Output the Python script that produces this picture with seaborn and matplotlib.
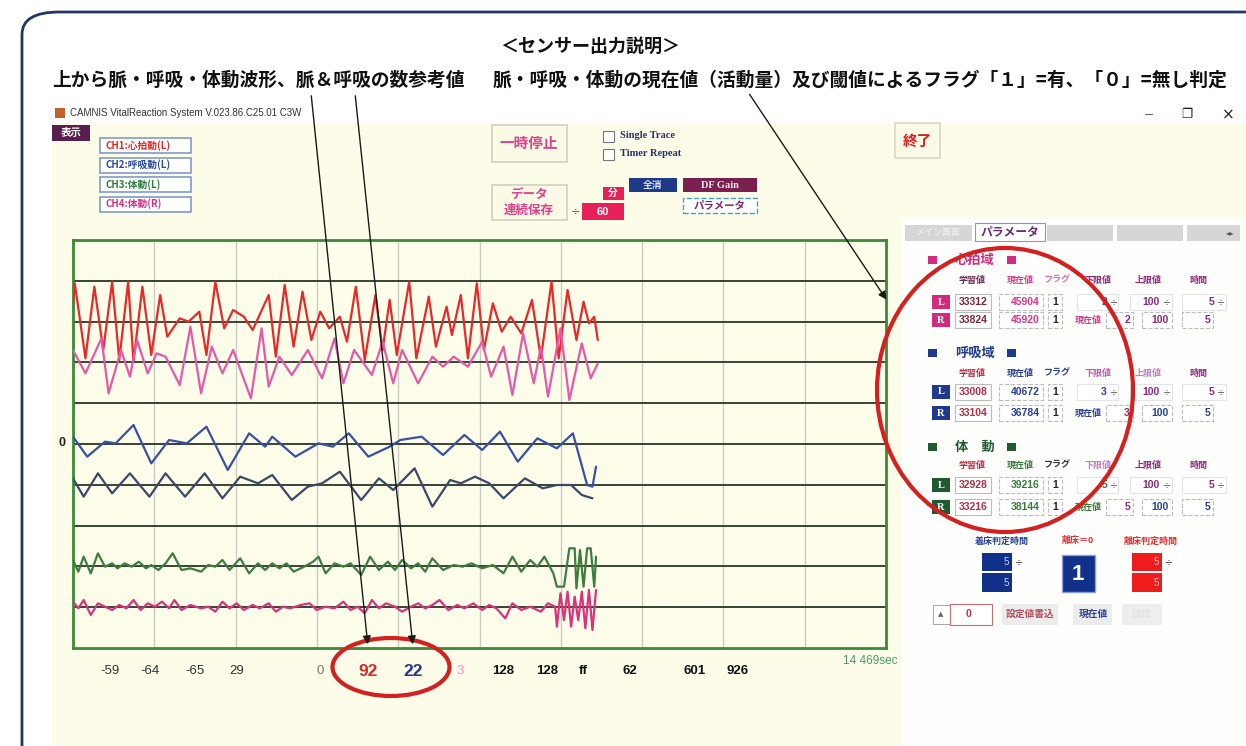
import numpy as np
import pandas as pd
import matplotlib
matplotlib.use("Agg")
import matplotlib.pyplot as plt
import seaborn as sns
from matplotlib.patches import Rectangle, Ellipse, FancyBboxPatch, FancyArrowPatch

# ---------------- data ----------------
red_t = [0,5,35,60,85,110,130,155,170,195,220,245,265,300,325,355,375,400,425,450,480,505,550,570,595,620,645,670,695,720,750,770,795,820,850,870,890,910,945,965,1000,1020,1050,1065,1090,1110,1135,1155,1180,1205,1230,1260,1290,1315,1345,1365,1390,1415,1435,1450,1465,1475]
red_v = [412,482,257,472,282,487,252,487,247,472,267,447,322,377,367,397,267,487,347,402,382,342,447,262,477,292,457,312,397,347,382,307,472,252,447,282,432,267,487,257,442,292,412,327,447,257,482,282,422,337,382,332,432,257,487,257,462,312,427,362,382,312]

pink_t = [0,35,80,100,135,160,180,210,235,260,300,330,360,390,420,450,500,530,550,580,615,660,700,735,760,790,840,870,900,925,970,1010,1040,1070,1110,1150,1175,1210,1235,1265,1295,1315,1335,1370,1395,1430,1455,1475]
pink_v = [282,212,317,152,282,202,312,212,272,262,177,352,152,292,212,282,137,347,172,262,207,282,197,317,182,282,207,307,182,282,182,262,232,262,232,307,202,292,147,332,182,292,142,347,132,302,197,242]

blue_t = [0,40,90,120,170,220,270,320,375,435,495,540,560,625,690,730,775,830,890,920,980,1040,1100,1150,1200,1250,1305,1360,1405,1445,1460,1470]
blue_v = [22,-38,7,2,57,-58,12,2,52,-78,32,-8,22,-38,2,-8,32,-38,-8,12,22,-33,27,-18,37,-53,17,-13,32,-123,-128,-68]

navy_t = [0,30,70,110,160,215,260,315,370,420,470,520,560,615,660,700,750,810,860,900,960,1010,1060,1090,1130,1170,1210,1270,1320,1360,1400,1430,1460]
navy_v = [-103,-158,-88,-148,-88,-158,-88,-158,-88,-163,-98,-118,-93,-168,-128,-118,-83,-168,-103,-138,-73,-188,-108,-118,-98,-118,-163,-103,-133,-123,-123,-153,-163]

green_t = [0,15,30,50,70,90,110,125,145,165,185,205,220,240,260,280,305,330,360,380,400,420,440,470,495,520,540,560,580,600,620,650,675,690,710,735,760,780,810,835,860,885,905,925,950,970,990,1010,1040,1070,1095,1120,1150,1180,1210,1235,1260,1285,1305,1325,1350,1360,1380,1395,1410,1415,1425,1435,1445,1455,1465,1470]
green_v = [-348,-383,-338,-388,-328,-368,-358,-373,-358,-368,-353,-373,-363,-378,-358,-328,-378,-373,-383,-363,-368,-348,-378,-343,-388,-358,-378,-358,-373,-358,-383,-368,-353,-338,-388,-358,-368,-358,-393,-338,-378,-353,-378,-348,-373,-358,-383,-343,-378,-363,-368,-358,-373,-363,-388,-338,-383,-348,-368,-338,-388,-428,-428,-313,-313,-433,-318,-428,-313,-313,-428,-338]

crim_t = [0,15,30,50,70,90,110,130,150,170,190,210,230,250,270,285,305,330,360,380,400,420,440,460,480,505,525,550,570,590,610,640,665,685,710,735,760,780,800,820,840,860,880,905,925,950,970,990,1010,1030,1055,1080,1100,1125,1150,1170,1190,1215,1235,1260,1285,1315,1335,1355,1360,1370,1380,1390,1400,1410,1420,1430,1440,1450,1460,1470]
crim_v = [-473,-493,-468,-513,-478,-488,-498,-483,-493,-468,-498,-478,-488,-473,-493,-468,-498,-483,-493,-488,-503,-473,-493,-478,-498,-483,-493,-478,-503,-488,-493,-483,-478,-498,-488,-493,-473,-498,-488,-508,-468,-493,-478,-488,-503,-488,-478,-493,-483,-468,-498,-483,-493,-478,-498,-483,-493,-523,-478,-498,-488,-503,-478,-488,-548,-448,-528,-443,-548,-458,-528,-443,-553,-438,-558,-438]

channels = ['CH1 心拍L', 'CH1 心拍R', 'CH2 呼吸L', 'CH2 呼吸R', 'CH3 体動L', 'CH4 体動R']
bottom_values = ['-59', '-64', '-65', '29', '0', '92', '22', '3', '128', '128', 'ff', '62', '601', '926']
elapsed = '14 469sec'

sections = ['心拍域', '呼吸域', '体　動']
col_headers = ['学習値', '現在値', 'フラグ', '下限値', '上限値', '時間']
learned_L = [33312, 33008, 32928]
learned_R = [33824, 33104, 33216]
current_L = [45904, 40672, 39216]
current_R = [45920, 36784, 38144]
flag_L = [1, 1, 1]
flag_R = [1, 1, 1]
lower_lim = [2, 3, 5]
upper_lim = [100, 100, 100]
hold_time = [5, 5, 5]

# ---------------- setup ----------------
W, H = 1246, 746
sns.set_theme(style="white")
CJK = ['Noto Sans CJK JP', 'DejaVu Sans']
plt.rcParams['font.family'] = CJK

fig = plt.figure(figsize=(W / 100, H / 100), dpi=100, facecolor='white')


def fx(x):
    return x / W


def fy(y):
    return 1 - y / H


def T(x, y, s, size=9, color='black', ha='left', va='center', weight='normal', family=None, z=4):
    fig.text(fx(x), fy(y), s, fontsize=size, color=color, ha=ha, va=va,
             fontweight=weight, family=family if family else CJK, zorder=z)


def R(x0, y0, x1, y1, fc='none', ec='none', lw=1.0, z=1, ls='-'):
    fig.patches.append(Rectangle((fx(x0), fy(y1)), (x1 - x0) / W, (y1 - y0) / H,
                                 transform=fig.transFigure, facecolor=fc, edgecolor=ec,
                                 linewidth=lw, zorder=z, linestyle=ls))


# window background
R(52, 123, 1246, 746, fc='#fcfce9', z=-3)
R(902, 218, 1246, 746, fc='#fefefc', z=-2)

# outer rounded frame
fig.patches.append(FancyBboxPatch((fx(22), fy(790)), (1290 - 22) / W, (790 - 12) / H,
                                  boxstyle='round,pad=0,rounding_size=0.03',
                                  transform=fig.transFigure, facecolor='none',
                                  edgecolor='#22356e', linewidth=2, zorder=-1))

# titles
T(590, 46, '＜センサー出力説明＞', size=13, ha='center', weight='bold', color='#111111')
T(52, 80, '上から脈・呼吸・体動波形、脈＆呼吸の数参考値', size=13.5, weight='bold', color='#111111')
T(493, 80, '脈・呼吸・体動の現在値（活動量）及び閾値によるフラグ「１」=有、「０」=無し判定',
  size=13.5, weight='bold', color='#111111')

# window title bar
R(55, 108, 65, 118, fc='#c0602a', z=2)
T(70, 113, 'CAMNIS VitalReaction System V.023.86.C25.01 C3W', size=7, color='#333333',
  family='Liberation Sans')
T(1149, 115, '−', size=9, color='#666666', ha='center', family='DejaVu Sans')
T(1187, 115, '❐', size=9, color='#222222', ha='center', family='DejaVu Sans', weight='bold')
T(1228, 115, '×', size=11, color='#222222', ha='center', family='DejaVu Sans')

# top-left buttons
R(52, 125, 90, 141, fc='#5a1d4e', z=2)
T(71, 133, '表示', size=7.5, color='white', ha='center', weight='bold')
ch_labels = ['CH1:心拍動(L)', 'CH2:呼吸動(L)', 'CH3:体動(L)', 'CH4:体動(R)']
ch_colors = ['#e02a2a', '#2a4a9a', '#2a7a3a', '#d0308a']
for i, (lab, c) in enumerate(zip(ch_labels, ch_colors)):
    y0 = 138 + i * 19.5
    R(100, y0, 191, y0 + 15, fc='white', ec='#7f9cc8', lw=1.2, z=2)
    T(106, y0 + 7.5, lab, size=7, color=c, weight='bold')

# middle buttons
R(492, 125, 567, 162, fc='#fafae6', ec='#d0d0c0', lw=1.2, z=2)
T(529, 143, '一時停止', size=10.5, color='#e0408a', ha='center', weight='bold')
R(603, 131, 614, 142, fc='white', ec='#777777', lw=0.8, z=2)
R(603, 149, 614, 160, fc='white', ec='#777777', lw=0.8, z=2)
T(620, 136, 'Single Trace', size=7.5, color='#2a3070', weight='bold', family='Liberation Serif')
T(620, 154, 'Timer Repeat', size=7.5, color='#2a3070', weight='bold', family='Liberation Serif')
R(492, 185, 567, 220, fc='#fafae6', ec='#d0d0c0', lw=1.2, z=2)
T(529, 194, 'データ', size=9, color='#e0408a', ha='center', weight='bold')
T(529, 210, '連続保存', size=9, color='#e0408a', ha='center', weight='bold')
T(575, 211, '÷', size=8, color='#444444', ha='center', family='DejaVu Sans')
R(603, 187, 624, 200, fc='#e8205a', z=2)
T(613, 193, '分', size=7, color='white', ha='center', weight='bold')
R(582, 203, 624, 220, fc='#e8205a', z=2)
T(603, 212, '60', size=8, color='white', ha='center', weight='bold', family='Liberation Sans')
R(629, 178, 677, 192, fc='#1e3a86', z=2)
T(653, 185, '全消', size=7, color='#dde4ff', ha='center', weight='bold')
R(683, 178, 757, 192, fc='#7a2050', z=2)
T(720, 185, 'DF Gain', size=7.5, color='#f2e6ec', ha='center', weight='bold', family='Liberation Serif')
R(683, 198, 757, 213, fc='white', ec='#4aa0b8', lw=1, z=2, ls='--')
T(720, 205.5, 'パラメータ', size=7.5, color='#7a2a6a', ha='center', weight='bold')
R(895, 123, 940, 158, fc='#fafae6', ec='#d8d8c8', lw=1.2, z=2)
T(917, 141, '終了', size=10.5, color='#d42020', ha='center', weight='bold')

# ---------------- main chart ----------------
ax = fig.add_axes([fx(73), fy(648), (886 - 73) / W, (648 - 240) / H])
ax.set_facecolor('#fdfdea')

series = [(red_t, red_v), (pink_t, pink_v), (blue_t, blue_v), (navy_t, navy_v),
          (green_t, green_v), (crim_t, crim_v)]
frames = []
for name, (t, v) in zip(channels, series):
    frames.append(pd.DataFrame({'t': t, 'v': v, 'ch': name, 'order': range(len(t))}))
df = pd.concat(frames, ignore_index=True)
palette = dict(zip(channels, ['#e52a2a', '#e35aa8', '#3a50a6', '#3c4868', '#3e7d3e', '#d8347a']))
sns.lineplot(data=df, x='t', y='v', hue='ch', palette=palette, units='ch', estimator=None,
             sort=False, legend=False, linewidth=1.6, ax=ax, zorder=3)

XMAX, YMAX = 2285, 612
ax.set_xlim(0, XMAX)
ax.set_ylim(-YMAX, YMAX)
for k in range(1, 10):
    ax.axvline(k * XMAX / 10, color='#c9ccc2', lw=1.0, zorder=0.5)
    ax.axhline(-YMAX + k * 2 * YMAX / 10, color='#263626', lw=1.3, zorder=1)
for s in ax.spines.values():
    s.set_color('#3a8a3a')
    s.set_linewidth(2)
ax.set_xticks([])
ax.set_yticks([])
ax.set_xlabel('')
ax.set_ylabel('')

T(62, 443, '0', size=9, weight='bold', color='#222222', ha='center', family='Liberation Sans')

# bottom values
bx = [110, 150, 195, 237, 320, 368, 413, 460, 503, 547, 583, 630, 695, 738]
bstyle = (['n'] * 4) + ['z', 'r', 'b', 'p'] + (['k'] * 6)
for x, s, st in zip(bx, bottom_values, bstyle):
    if st == 'n':
        T(x, 671, s, size=9.5, color='#333333', ha='center', family='Liberation Sans')
    elif st == 'z':
        T(x, 671, s, size=9.5, color='#6a7a6a', ha='center', family='Liberation Sans')
    elif st == 'r':
        T(x, 671, s, size=12.5, color='#d42a2a', ha='center', weight='bold', family='Liberation Sans')
    elif st == 'b':
        T(x, 671, s, size=12.5, color='#27378a', ha='center', weight='bold', family='Liberation Sans')
    elif st == 'p':
        T(x, 671, s, size=9.5, color='#f090c8', ha='center', family='Liberation Sans')
    else:
        T(x, 671, s, size=9.5, color='#111111', ha='center', weight='bold', family='Liberation Sans')
T(870, 661, elapsed, size=8.5, color='#4f9a6a', ha='center', family='Liberation Sans')

# ---------------- right panel ----------------
R(905, 225, 972, 241, fc='#d6d6d6', z=2)
T(938, 233, 'メイン画面', size=6.5, color='#f4f4f4', ha='center')
R(975, 223, 1045, 241, fc='white', ec='#999999', lw=0.8, z=2)
T(1010, 232, 'パラメータ', size=8.5, color='#6a2a6a', ha='center', weight='bold')
for x0, x1 in [(1047, 1113), (1117, 1183), (1187, 1240)]:
    R(x0, 225, x1, 241, fc='#d6d6d6', z=2)
T(1230, 233, '◂▸', size=6, color='#555555', ha='center', family='DejaVu Sans')

sec_colors = ['#d42a7e', '#1f3a8c', '#1f5a30']
learn_colors = ['#7a2838', '#b03048', '#b03048']
cur_colors = ['#d03a8a', '#2a3f96', '#3a7a3a']
hdr_y = [260, 353, 447]
col_y = [280, 373, 465]
rowL_y = [302, 392, 485]
rowR_y = [320, 413, 507]
col_x = [972, 1020, 1057, 1098, 1148, 1198]
hdr_cols = [['#6a2850', '#d03a8a', '#e070b0', '#8a2a7a', '#8a2a7a', '#8a2a7a'],
            ['#b03048', '#2a3f96', '#2a3f96', '#c05ab0', '#c080c0', '#8a2a7a'],
            ['#b03048', '#3a7a3a', '#333333', '#c080c0', '#8a2a7a', '#8a2a7a']]
box_ec = '#bcbcbc'
for i in range(3):
    sc = sec_colors[i]
    R(928, hdr_y[i] - 4, 937, hdr_y[i] + 4, fc=sc, z=2)
    T(955, hdr_y[i], sections[i], size=9.5, color=sc, weight='bold')
    R(1007, hdr_y[i] - 4, 1016, hdr_y[i] + 4, fc=sc, z=2)
    for cx, h, hc in zip(col_x, col_headers, hdr_cols[i]):
        T(cx, col_y[i], h, size=6.5, color=hc, ha='center', weight='bold')
    for side, ry in (('L', rowL_y[i]), ('R', rowR_y[i])):
        y0, y1 = ry - 8, ry + 8
        R(932, y0 + 1, 950, y1 - 1, fc=sc, z=2)
        T(941, ry, side, size=7.5, color='white', ha='center', weight='bold', family='Liberation Serif')
        lv = learned_L[i] if side == 'L' else learned_R[i]
        cv = current_L[i] if side == 'L' else current_R[i]
        fv = flag_L[i] if side == 'L' else flag_R[i]
        R(955, y0, 991, y1, fc='white', ec=box_ec, lw=0.8, z=2)
        T(988, ry, str(lv), size=7.5, color=learn_colors[i], ha='right', weight='bold', family='Liberation Sans')
        R(999, y0, 1043, y1, fc='white', ec=box_ec, lw=0.8, z=2, ls='--')
        T(1040, ry, str(cv), size=7.5, color=cur_colors[i], ha='right', weight='bold', family='Liberation Sans')
        R(1048, y0, 1062, y1, fc='white', ec=box_ec, lw=0.8, z=2, ls='--')
        T(1055, ry, str(fv), size=7.5, color='#222222', ha='center', weight='bold', family='Liberation Sans')
        if side == 'L':
            R(1077, y0, 1118, y1, fc='white', ec='#e4e4e4', lw=0.8, z=2)
            T(1107, ry, str(lower_lim[i]), size=7.5, color=cur_colors[i] if i else '#8a2a7a', ha='right', weight='bold', family='Liberation Sans')
            T(1114, ry, '÷', size=7, color='#555555', ha='center', family='DejaVu Sans')
            R(1130, y0, 1172, y1, fc='white', ec='#e4e4e4', lw=0.8, z=2)
            T(1160, ry, str(upper_lim[i]), size=7.5, color='#8a2a7a', ha='right', weight='bold', family='Liberation Sans')
            T(1167, ry, '÷', size=7, color='#555555', ha='center', family='DejaVu Sans')
            R(1182, y0, 1226, y1, fc='white', ec='#e4e4e4', lw=0.8, z=2)
            T(1214, ry, str(hold_time[i]), size=7.5, color='#8a2a7a', ha='right', weight='bold', family='Liberation Sans')
            T(1221, ry, '÷', size=7, color='#555555', ha='center', family='DejaVu Sans')
        else:
            T(1088, ry, '現在値', size=6.5, color=cur_colors[i], ha='center', weight='bold')
            R(1106, y0, 1133, y1, fc='white', ec=box_ec, lw=0.8, z=2, ls='--')
            T(1130, ry, str(lower_lim[i]), size=7.5, color='#8a2a7a', ha='right', weight='bold', family='Liberation Sans')
            R(1142, y0, 1172, y1, fc='white', ec=box_ec, lw=0.8, z=2, ls='--')
            T(1169, ry, str(upper_lim[i]), size=7.5, color='#8a2a7a' if i == 0 else '#2a3f96', ha='right', weight='bold', family='Liberation Sans')
            R(1182, y0, 1213, y1, fc='white', ec=box_ec, lw=0.8, z=2, ls='--')
            T(1210, ry, str(hold_time[i]), size=7.5, color='#8a2a7a' if i == 0 else '#2a3f96', ha='right', weight='bold', family='Liberation Sans')

# bed-sensing widgets
T(1002, 541, '着床判定時間', size=6.5, color='#2a3f96', ha='center', weight='bold')
T(1078, 541, '離床＝0', size=6.5, color='#e03030', ha='center', weight='bold')
T(1151, 541, '離床判定時間', size=6.5, color='#e03030', ha='center', weight='bold')
R(982, 553, 1012, 592, fc='#10308a', z=2)
R(982, 571, 1012, 573, fc='white', z=3)
T(1009, 562, '5', size=7, color='#c8d0ff', ha='right', family='Liberation Sans')
T(1009, 583, '5', size=7, color='#c8d0ff', ha='right', family='Liberation Sans')
T(1019, 562, '÷', size=7, color='#333333', ha='center', family='DejaVu Sans')
R(1062, 555, 1095, 592, fc='#10308a', ec='#8aa0e0', lw=1, z=2)
T(1078, 574, '1', size=16, color='white', ha='center', weight='bold', family='Liberation Sans')
R(1132, 553, 1162, 592, fc='#ee1c1c', z=2)
R(1132, 571, 1162, 573, fc='white', z=3)
T(1159, 562, '5', size=7, color='#ffd0d0', ha='right', family='Liberation Sans')
T(1159, 583, '5', size=7, color='#ffd0d0', ha='right', family='Liberation Sans')
T(1169, 562, '÷', size=7, color='#333333', ha='center', family='DejaVu Sans')
R(933, 605, 950, 624, fc='white', ec='#aaaaaa', lw=0.8, z=2)
T(941, 614, '▲', size=5, color='#666666', ha='center', family='DejaVu Sans')
R(950, 604, 992, 625, fc='white', ec='#c07070', lw=0.8, z=2)
T(969, 614, '0', size=7.5, color='#c03050', ha='center', weight='bold', family='Liberation Sans')
R(1002, 604, 1058, 625, fc='#ececec', z=2)
T(1030, 614, '設定値書込', size=7, color='#b05060', ha='center', weight='bold')
R(1073, 604, 1112, 625, fc='#ececec', z=2)
T(1093, 614, '現在値', size=7, color='#2a3f96', ha='center', weight='bold')
R(1122, 604, 1162, 625, fc='#eeeeee', z=2)
T(1142, 614, '確認', size=7, color='#e0e0e0', ha='center')

# ---------------- annotations ----------------
fig.patches.append(Ellipse((fx(1005), fy(390)), 256 / W, 284 / H, transform=fig.transFigure,
                           facecolor='none', edgecolor='#d42020', linewidth=3, zorder=6))
fig.patches.append(Ellipse((fx(391), fy(667)), 117 / W, 58 / H, transform=fig.transFigure,
                           facecolor='none', edgecolor='#d42020', linewidth=3, zorder=6))
for (xa, ya), (xb, yb) in [((311, 93), (368, 647)), ((355, 93), (413, 647)), ((748, 92), (888, 302))]:
    fig.add_artist(FancyArrowPatch((fx(xa), fy(ya)), (fx(xb), fy(yb)), transform=fig.transFigure,
                                   arrowstyle='-|>', mutation_scale=12, color='#1a1a1a', lw=1.0, zorder=7))

fig.savefig('out.png', dpi=100, facecolor='white')
